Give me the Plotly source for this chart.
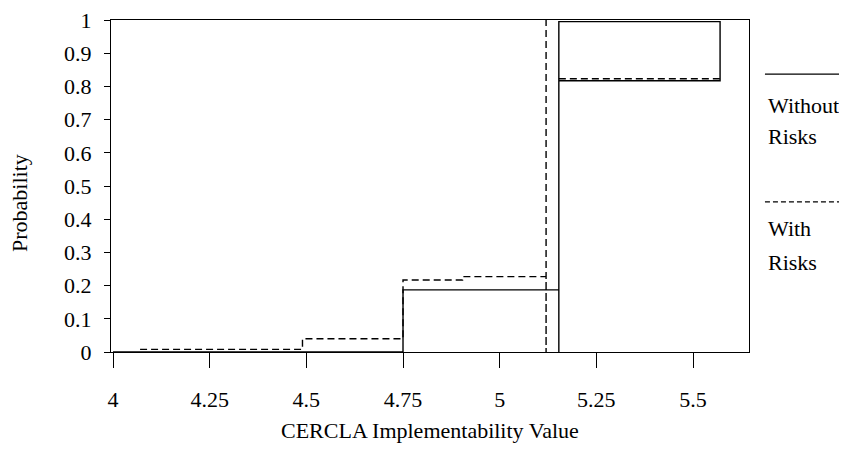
import plotly.graph_objects as go

# Step-path vertices (x = CERCLA implementability value, y = probability)
without_x = [4.0, 4.75, 4.75, 5.153, 5.153, 5.153, 5.57, 5.57, 5.153]
without_y = [0.0, 0.0, 0.187, 0.187, 0.0, 0.995, 0.995, 0.817, 0.817]

with_x = [4.07, 4.49, 4.49, 4.75, 4.75, 4.904, 4.904, 5.12, 5.12, 5.12, None, 5.153, 5.57]
with_y = [0.008, 0.008, 0.04, 0.04, 0.217, 0.217, 0.227, 0.227, 0.0, 1.0, None, 0.823, 0.823]

x_ticks = [4, 4.25, 4.5, 4.75, 5, 5.25, 5.5]
x_tick_labels = ["4", "4.25", "4.5", "4.75", "5", "5.25", "5.5"]
y_ticks = [0, 0.1, 0.2, 0.3, 0.4, 0.5, 0.6, 0.7, 0.8, 0.9, 1]
y_tick_labels = ["0", "0.1", "0.2", "0.3", "0.4", "0.5", "0.6", "0.7", "0.8", "0.9", "1"]

FONT = "Liberation Serif, Times New Roman, serif"
FS = 22

fig = go.Figure()
fig.add_trace(go.Scatter(x=without_x, y=without_y, mode="lines",
                         line=dict(color="black", width=1.4), name="Without Risks",
                         showlegend=False))
fig.add_trace(go.Scatter(x=with_x, y=with_y, mode="lines", connectgaps=False,
                         line=dict(color="black", width=1.4, dash="7px,4px"),
                         name="With Risks", showlegend=False))

# legend drawn manually (line above label, right of plot)
fig.add_shape(type="line", xref="paper", yref="paper", x0=1.025, x1=1.16, y0=0.837, y1=0.837,
              line=dict(color="black", width=1.2))
fig.add_shape(type="line", xref="paper", yref="paper", x0=1.025, x1=1.16, y0=0.452, y1=0.452,
              line=dict(color="black", width=1.2, dash="5px,3px"))
for txt, yy in [("Without", 0.742), ("Risks", 0.648), ("With", 0.373), ("Risks", 0.27)]:
    fig.add_annotation(text=txt, xref="paper", yref="paper", x=1.026, y=yy,
                       xanchor="left", yanchor="middle", showarrow=False,
                       font=dict(family=FONT, size=FS, color="black"))

# axis titles
fig.add_annotation(text="CERCLA Implementability Value", xref="paper", yref="paper",
                   x=0.5, y=-0.235, xanchor="center", yanchor="middle", showarrow=False,
                   font=dict(family=FONT, size=FS, color="black"))
fig.add_annotation(text="Probability", xref="paper", yref="paper", textangle=-90,
                   x=-0.1426, y=0.449, xanchor="center", yanchor="middle", showarrow=False,
                   font=dict(family=FONT, size=FS, color="black"))

fig.update_layout(
    width=847, height=460,
    margin=dict(l=103, r=106, t=12, b=116, autoexpand=False),
    plot_bgcolor="white", paper_bgcolor="white",
    font=dict(family=FONT, size=FS, color="black"),
    showlegend=False,
    xaxis=dict(range=[3.9948, 5.6448], tickvals=x_ticks, ticktext=x_tick_labels,
               ticks="outside", ticklen=15, tickcolor="black", tickwidth=1,
               showline=True, linecolor="black", linewidth=1.2, mirror=True,
               showgrid=False, zeroline=False, ticklabelstandoff=12, automargin=False,
               ticklabeloverflow="allow"),
    yaxis=dict(range=[0, 1], tickvals=y_ticks, ticktext=y_tick_labels,
               ticks="outside", ticklen=6, tickcolor="black", tickwidth=1,
               showline=True, linecolor="black", linewidth=1.2, mirror=True,
               showgrid=False, zeroline=False, ticklabelstandoff=8, automargin=False,
               ticklabeloverflow="allow"),
)

fig.write_html("out.html")
